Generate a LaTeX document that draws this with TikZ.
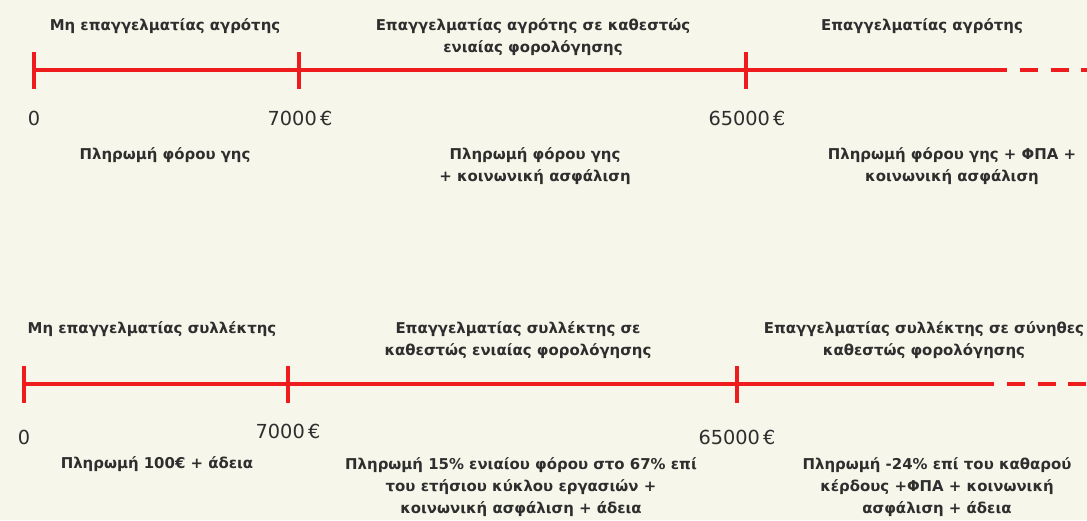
\documentclass[tikz,border=0pt]{standalone}
\usepackage{fontspec}
\setmainfont{DejaVu Sans}
\definecolor{bgcream}{HTML}{F6F6EA}
\definecolor{linered}{HTML}{EE1C1C}
\definecolor{txtgray}{HTML}{2E2E2E}
\begin{document}
\begin{tikzpicture}[x=0.02cm, y=-0.02cm,
		timeline/.style={linered, line width=2.2pt},
		farend/.style={timeline, dash pattern=on 10.4pt off 7pt},
		heading/.style={text=txtgray, align=center, font=\bfseries\fontsize{8.5}{12.5}\selectfont},
		amount/.style={text=txtgray, font=\fontsize{11}{13}\selectfont}]
		\fill[bgcream] (0,0) rectangle (1087,520);
		\useasboundingbox (0,0) rectangle (1087,520);
		
		% farmer: upper timeline
		\coordinate (f0) at (34,70);
		\coordinate (f7) at (299,70);
		\coordinate (f65) at (746,70);
		\coordinate (fsolid) at (1007,70);
		\coordinate (fdash) at (1020,70);
		\coordinate (fout) at (1087,70);
		\draw[timeline] (f0) -- (fsolid);
		\draw[farend] (fdash) -- (fout);
		\foreach \t in {f0,f7,f65}
			\draw[timeline] (\t) ++(0,-18) -- ++(0,37);
		
		\node[heading] (fhead1) at (165,26) {Μη επαγγελματίας αγρότης};
		\node[heading] (fhead2) at (533,37) {Επαγγελματίας αγρότης σε καθεστώς\\ενιαίας φορολόγησης};
		\node[heading] (fhead3) at (922,26) {Επαγγελματίας αγρότης};
		
		\node[amount] (famt0) at (34,118) {0};
		\node[amount] (famt7) at (300,118) {7000\,€};
		\node[amount] (famt65) at (747,118) {65000\,€};
		
		\node[heading] (fpay1) at (165,155) {Πληρωμή φόρου γης};
		\node[heading] (fpay2) at (535,166) {Πληρωμή φόρου γης\\+ κοινωνική ασφάλιση};
		\node[heading] (fpay3) at (952,166) {Πληρωμή φόρου γης + ΦΠΑ +\\κοινωνική ασφάλιση};
		
		% collector: lower timeline
		\coordinate (c0) at (24,384);
		\coordinate (c7) at (288,384);
		\coordinate (c65) at (737,384);
		\coordinate (csolid) at (994,384);
		\coordinate (cdash) at (1007,384);
		\coordinate (cout) at (1087,384);
		\draw[timeline] (c0) -- (csolid);
		\draw[farend] (cdash) -- (cout);
		\foreach \t in {c0,c7,c65}
			\draw[timeline] (\t) ++(0,-18) -- ++(0,37);
		
		\node[heading] (chead1) at (152,329) {Μη επαγγελματίας συλλέκτης};
		\node[heading] (chead2) at (518,340) {Επαγγελματίας συλλέκτης σε\\καθεστώς ενιαίας φορολόγησης};
		\node[heading] (chead3) at (924,340) {Επαγγελματίας συλλέκτης σε σύνηθες\\καθεστώς φορολόγησης};
		
		\node[amount] (camt0) at (24,437) {0};
		\node[amount] (camt7) at (288,431) {7000\,€};
		\node[amount] (camt65) at (737,437) {65000\,€};
		
		\node[heading] (cpay1) at (157,464) {Πληρωμή 100€ + άδεια};
		\node[heading] (cpay2) at (521,487) {Πληρωμή 15\% ενιαίου φόρου στο 67\% επί\\του ετήσιου κύκλου εργασιών +\\κοινωνική ασφάλιση + άδεια};
		\node[heading] (cpay3) at (937,487) {Πληρωμή \mbox{-24\%} επί του καθαρού\\κέρδους +ΦΠΑ + κοινωνική\\ασφάλιση + άδεια};
	\end{tikzpicture}
\end{document}
